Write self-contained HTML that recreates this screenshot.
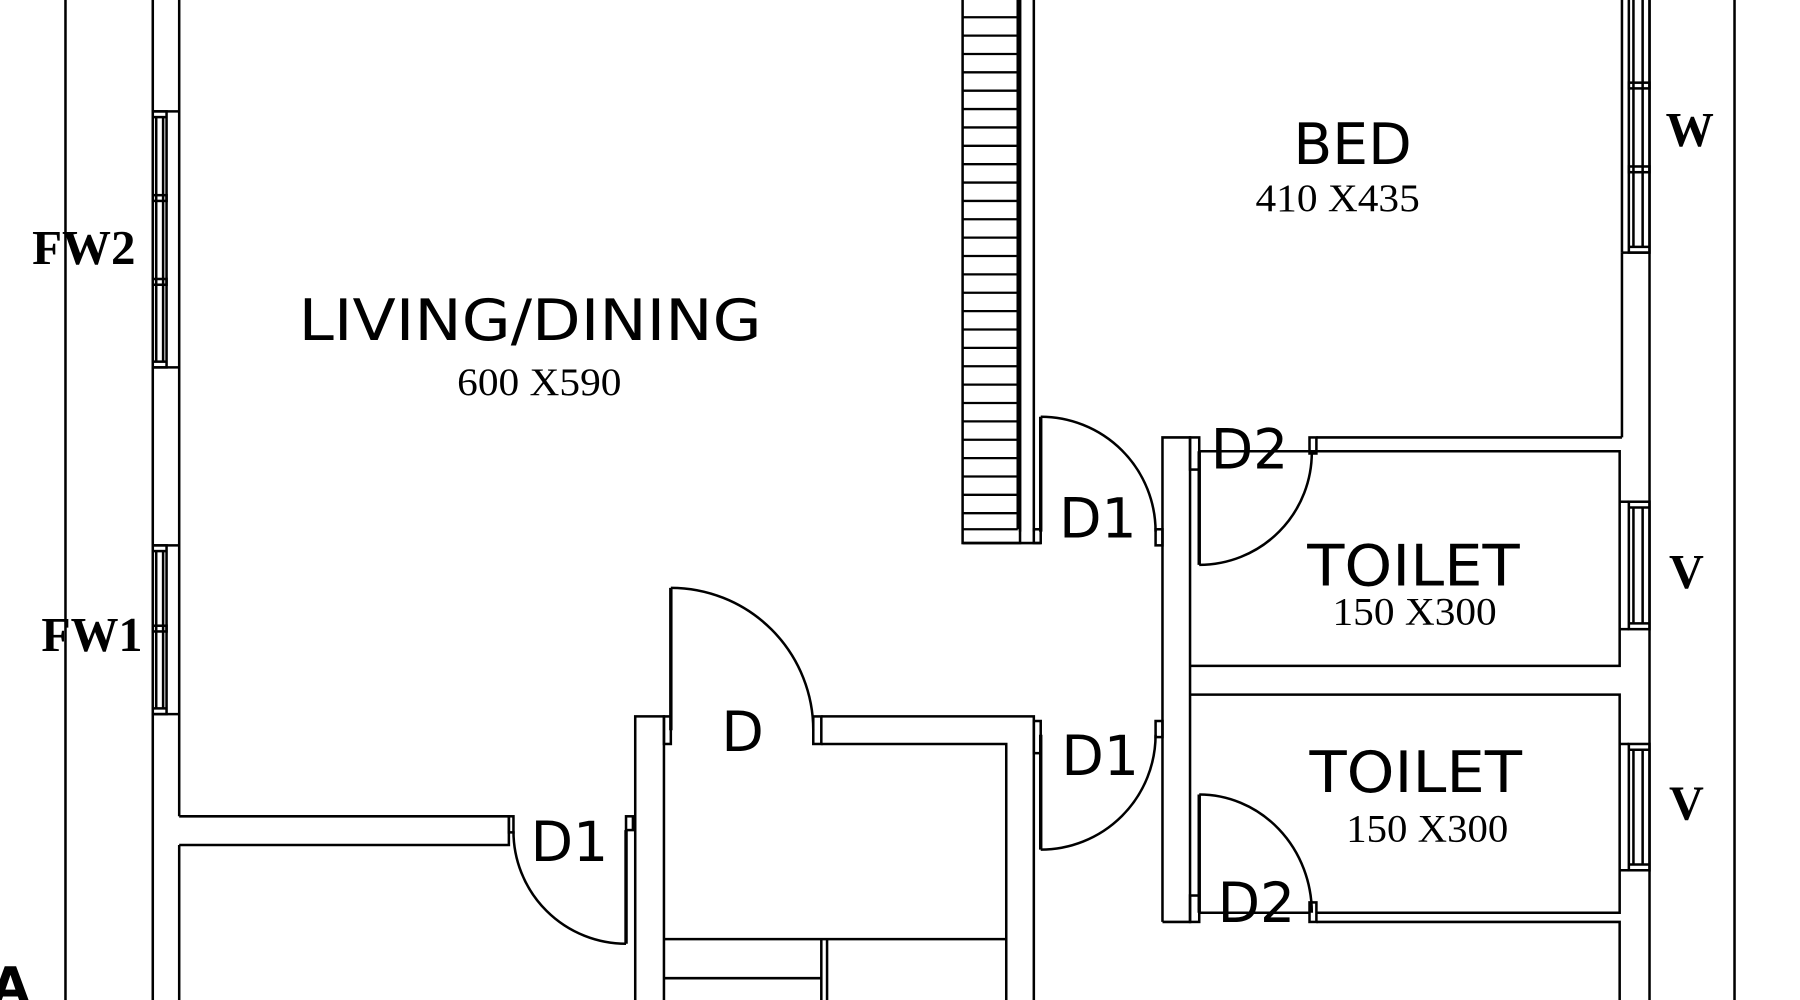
<!DOCTYPE html>
<html><head><meta charset="utf-8"><style>
html,body{margin:0;padding:0;background:#fff;width:1800px;height:1000px;overflow:hidden}
svg{display:block}
.s{font-family:"DejaVu Sans","Liberation Sans",sans-serif;}
.r{font-family:"Liberation Serif",serif;}
</style></head><body>
<svg width="1800" height="1000" viewBox="0 0 1567 871" preserveAspectRatio="none" xmlns="http://www.w3.org/2000/svg">
<g fill="none" stroke="#000" stroke-width="2.2">
<line x1="57" y1="0" x2="57" y2="871"/>
<line x1="133" y1="0" x2="133" y2="97"/>
<line x1="133" y1="320" x2="133" y2="475"/>
<line x1="133" y1="622" x2="133" y2="871"/>
<line x1="156" y1="0" x2="156" y2="711"/>
<line x1="156" y1="736" x2="156" y2="871"/>
<line x1="133" y1="97" x2="156" y2="97"/><line x1="133" y1="320" x2="156" y2="320"/>
<rect x="133" y="97" width="12" height="223"/>
<line x1="136" y1="102" x2="136" y2="315"/><line x1="142" y1="102" x2="142" y2="315"/>
<line x1="133" y1="102" x2="145" y2="102"/><line x1="133" y1="315" x2="145" y2="315"/>
<rect x="133" y="170" width="12" height="5"/><rect x="133" y="243" width="12" height="5"/>
<line x1="133" y1="475" x2="156" y2="475"/><line x1="133" y1="622" x2="156" y2="622"/>
<rect x="133" y="475" width="12" height="147"/>
<line x1="136" y1="480" x2="136" y2="617"/><line x1="142" y1="480" x2="142" y2="617"/>
<line x1="133" y1="480" x2="145" y2="480"/><line x1="133" y1="617" x2="145" y2="617"/>
<rect x="133" y="545" width="12" height="5"/>
<polyline points="156,711 443,711 443,736 156,736"/>
<rect x="443" y="711" width="4" height="14"/>
<rect x="545" y="711" width="6" height="12"/>
<line x1="545" y1="723" x2="545" y2="822" stroke-width="3"/>
<path d="M447,724 A98,98 0 0 0 545,822"/>
<polyline points="553,871 553,624 578,624 578,871"/>
<rect x="578" y="624" width="6" height="24"/>
<line x1="584" y1="512" x2="584" y2="636" stroke-width="3"/>
<path d="M584,512 A124,124 0 0 1 708,636"/>
<rect x="708" y="624" width="7" height="24"/>
<polyline points="715,624 900,624 900,871"/>
<polyline points="715,648 876,648 876,871"/>
<line x1="578" y1="818" x2="876" y2="818"/>
<line x1="578" y1="852" x2="715" y2="852"/>
<line x1="715" y1="818" x2="715" y2="871"/><line x1="720" y1="818" x2="720" y2="871"/>
<rect x="900" y="628" width="6" height="28"/>
<line x1="906" y1="640" x2="906" y2="740" stroke-width="3"/>
<path d="M1006,640 A100,100 0 0 1 906,740"/>
<rect x="1006" y="628" width="6" height="14"/>
<polyline points="1012,803 1012,381 1036,381 1036,803 1012,803"/>
<rect x="838" y="-2" width="50" height="475"/>
<line x1="888" y1="0" x2="888" y2="463"/>
<line x1="900" y1="0" x2="900" y2="463"/>
<g stroke-width="2">
<line x1="838" y1="15" x2="886" y2="15"/><line x1="838" y1="31" x2="886" y2="31"/><line x1="838" y1="47" x2="886" y2="47"/><line x1="838" y1="63" x2="886" y2="63"/><line x1="838" y1="79" x2="886" y2="79"/><line x1="838" y1="95" x2="886" y2="95"/><line x1="838" y1="111" x2="886" y2="111"/><line x1="838" y1="127" x2="886" y2="127"/><line x1="838" y1="143" x2="886" y2="143"/><line x1="838" y1="159" x2="886" y2="159"/><line x1="838" y1="175" x2="886" y2="175"/><line x1="838" y1="191" x2="886" y2="191"/><line x1="838" y1="207" x2="886" y2="207"/><line x1="838" y1="223" x2="886" y2="223"/><line x1="838" y1="239" x2="886" y2="239"/><line x1="838" y1="255" x2="886" y2="255"/><line x1="838" y1="271" x2="886" y2="271"/><line x1="838" y1="287" x2="886" y2="287"/><line x1="838" y1="303" x2="886" y2="303"/><line x1="838" y1="319" x2="886" y2="319"/><line x1="838" y1="335" x2="886" y2="335"/><line x1="838" y1="351" x2="886" y2="351"/><line x1="838" y1="367" x2="886" y2="367"/><line x1="838" y1="383" x2="886" y2="383"/><line x1="838" y1="399" x2="886" y2="399"/><line x1="838" y1="415" x2="886" y2="415"/><line x1="838" y1="431" x2="886" y2="431"/><line x1="838" y1="447" x2="886" y2="447"/><line x1="838" y1="461" x2="886" y2="461"/>
</g>
<line x1="886" y1="0" x2="886" y2="461"/>
<rect x="900" y="461" width="6" height="12"/>
<line x1="838" y1="473" x2="906" y2="473"/>
<line x1="906" y1="363" x2="906" y2="463" stroke-width="3"/>
<path d="M906,363 A100,100 0 0 1 1006,463"/>
<rect x="1006" y="461" width="6" height="14"/>
<rect x="1036" y="381" width="8" height="28"/>
<rect x="1140" y="381" width="6" height="14"/>
<line x1="1146" y1="381" x2="1412" y2="381"/>
<polyline points="1044,393 1410,393 1410,580 1036,580"/>
<line x1="1044" y1="393" x2="1044" y2="492" stroke-width="3"/>
<path d="M1142,393 A98,98 0 0 1 1044,492"/>
<polyline points="1036,605 1410,605 1410,795 1146,795"/>
<rect x="1036" y="780" width="8" height="23"/>
<rect x="1140" y="786" width="6" height="17"/>
<line x1="1044" y1="692" x2="1044" y2="795" stroke-width="3"/>
<path d="M1044,692 A98,103 0 0 1 1142,795"/>
<line x1="1044" y1="795" x2="1140" y2="795"/>
<polyline points="1146,803 1410,803 1410,871"/>
<line x1="1412" y1="220" x2="1412" y2="381"/>
<line x1="1436" y1="0" x2="1436" y2="871"/>
<rect x="1418" y="-2" width="18" height="222"/>
<line x1="1412" y1="0" x2="1412" y2="220"/>
<line x1="1422" y1="0" x2="1422" y2="215"/><line x1="1430" y1="0" x2="1430" y2="215"/>
<line x1="1418" y1="215" x2="1436" y2="215"/>
<rect x="1418" y="72" width="18" height="5"/><rect x="1418" y="145" width="18" height="5"/>
<line x1="1412" y1="220" x2="1436" y2="220"/>
<rect x="1418" y="437" width="18" height="111"/>
<line x1="1422" y1="442" x2="1422" y2="543"/><line x1="1430" y1="442" x2="1430" y2="543"/>
<line x1="1418" y1="442" x2="1436" y2="442"/><line x1="1418" y1="543" x2="1436" y2="543"/>
<line x1="1410" y1="437" x2="1418" y2="437"/><line x1="1410" y1="548" x2="1418" y2="548"/>
<rect x="1418" y="648" width="18" height="110"/>
<line x1="1422" y1="653" x2="1422" y2="753"/><line x1="1430" y1="653" x2="1430" y2="753"/>
<line x1="1418" y1="653" x2="1436" y2="653"/><line x1="1418" y1="753" x2="1436" y2="753"/>
<line x1="1410" y1="648" x2="1418" y2="648"/><line x1="1410" y1="758" x2="1418" y2="758"/>
<line x1="1510" y1="0" x2="1510" y2="871"/>
</g>
<g fill="#000">
<text class="r" x="28" y="230" font-size="42" font-weight="bold" textLength="90" lengthAdjust="spacingAndGlyphs">FW2</text>
<text class="r" x="36" y="567" font-size="42" font-weight="bold" textLength="88" lengthAdjust="spacingAndGlyphs">FW1</text>
<text class="s" x="260" y="296" font-size="50" textLength="403" lengthAdjust="spacingAndGlyphs">LIVING/DINING</text>
<text class="r" x="398" y="344" font-size="34" textLength="143" lengthAdjust="spacingAndGlyphs">600 X590</text>
<text class="s" x="1126" y="143" font-size="50" textLength="103" lengthAdjust="spacingAndGlyphs">BED</text>
<text class="r" x="1093" y="184" font-size="34" textLength="143" lengthAdjust="spacingAndGlyphs">410 X435</text>
<text class="r" x="1450" y="127" font-size="42" font-weight="bold">W</text>
<text class="s" x="922" y="468" font-size="48">D1</text>
<text class="s" x="924" y="675" font-size="48">D1</text>
<text class="s" x="462" y="750" font-size="48">D1</text>
<text class="s" x="628" y="654" font-size="48">D</text>
<text class="s" x="1054" y="408" font-size="48">D2</text>
<text class="s" x="1060" y="803" font-size="48">D2</text>
<text class="s" x="1138" y="510" font-size="50" textLength="185" lengthAdjust="spacingAndGlyphs">TOILET</text>
<text class="r" x="1160" y="544" font-size="34" textLength="143" lengthAdjust="spacingAndGlyphs">150 X300</text>
<text class="s" x="1140" y="690" font-size="50" textLength="185" lengthAdjust="spacingAndGlyphs">TOILET</text>
<text class="r" x="1172" y="733" font-size="34" textLength="141" lengthAdjust="spacingAndGlyphs">150 X300</text>
<text class="r" x="1453" y="512" font-size="42" font-weight="bold">V</text>
<text class="r" x="1453" y="714" font-size="42" font-weight="bold">V</text>
<text class="s" x="-8" y="874" font-size="44" font-weight="bold">A</text>
</g>
</svg>
</body></html>
